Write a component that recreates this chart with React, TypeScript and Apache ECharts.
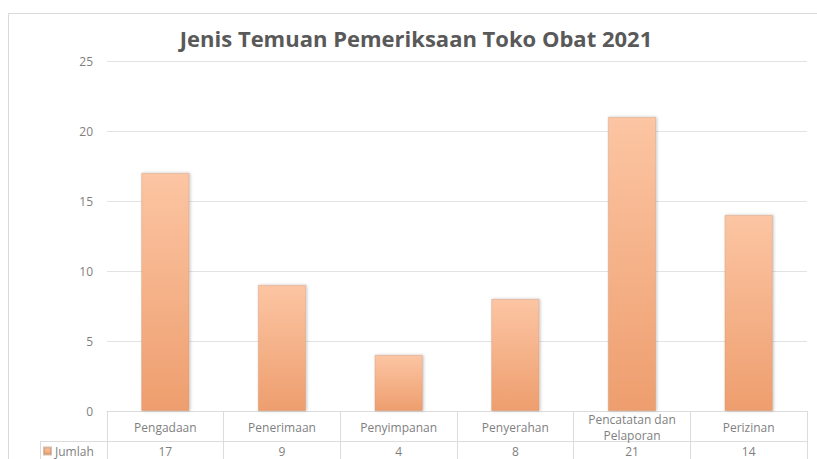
import React, { useEffect, useRef } from "react";
import * as echarts from "echarts";

const titleText = "Jenis Temuan Pemeriksaan Toko Obat 2021";
const categories = ["Pengadaan", "Penerimaan", "Penyimpanan", "Penyerahan", "Pencatatan dan\nPelaporan", "Perizinan"];
const seriesName = "Jumlah";
const jumlah = [17, 9, 4, 8, 21, 14];
const yTicks = [0, 5, 10, 15, 20, 25];

const FONT = "'Open Sans', 'Noto Sans', sans-serif";
const GRID_LINE = "#e3e3e3";
const TABLE_LINE = "#dcdcdc";
const TEXT = "#7f7f7f";

export default function App() {
  const ref = useRef<HTMLDivElement>(null);
  useEffect(() => {
    if (!ref.current) return;
    const chart = echarts.init(ref.current, null, { renderer: "svg" });
    const barColor = new echarts.graphic.LinearGradient(0, 0, 0, 1, [
      { offset: 0, color: "#fcc5a3" },
      { offset: 1, color: "#ee9e6e" },
    ]);
    chart.setOption({
      animation: false,
      backgroundColor: "#ffffff",
      textStyle: { fontFamily: FONT },
      title: {
        text: titleText,
        left: 411,
        textAlign: "center",
        top: 22,
        textStyle: { fontFamily: FONT, fontWeight: "bold", fontSize: 22, color: "#595959" },
      },
      legend: {
        left: 43,
        top: 445,
        icon: "rect",
        itemWidth: 7,
        itemHeight: 7,
        itemGap: 4,
        padding: 0,
        data: [seriesName],
        textStyle: { fontFamily: FONT, fontSize: 12, color: TEXT, padding: [0, 0, 0, -1] },
      },
      grid: { left: 107, right: 10, top: 61, bottom: 48, containLabel: false },
      xAxis: [
        {
          type: "category",
          data: categories,
          position: "bottom",
          axisLine: { show: true, lineStyle: { color: TABLE_LINE } },
          axisTick: { show: true, length: 30, inside: false, lineStyle: { color: TABLE_LINE } },
          axisLabel: {
            interval: 0,
            margin: 16,
            verticalAlign: "middle",
            fontFamily: FONT,
            fontSize: 12,
            lineHeight: 16,
            color: TEXT,
          },
          splitLine: { show: false },
        },
        {
          type: "category",
          data: categories,
          position: "bottom",
          offset: 30,
          axisLine: { show: true, lineStyle: { color: TABLE_LINE } },
          axisTick: { show: true, length: 18, lineStyle: { color: TABLE_LINE } },
          axisLabel: {
            interval: 0,
            margin: 10,
            verticalAlign: "middle",
            fontFamily: FONT,
            fontSize: 12,
            color: TEXT,
            formatter: (_v: string, i: number) => String(jumlah[i]),
          },
          splitLine: { show: false },
        },
      ],
      yAxis: {
        type: "value",
        min: yTicks[0],
        max: yTicks[yTicks.length - 1],
        interval: 5,
        axisLine: { show: false },
        axisTick: { show: false },
        axisLabel: { margin: 14, fontFamily: FONT, fontSize: 12, color: TEXT },
        splitLine: { show: true, lineStyle: { color: GRID_LINE } },
      },
      series: [
        {
          name: seriesName,
          type: "bar",
          xAxisIndex: 0,
          data: jumlah,
          barWidth: 48,
          itemStyle: {
            color: barColor,
            borderColor: "rgba(190,150,120,0.6)",
            borderWidth: 0.6,
            shadowColor: "rgba(0,0,0,0.25)",
            shadowBlur: 3,
            shadowOffsetX: 1,
          },
        },
      ],
      graphic: [
        {
          type: "rect",
          shape: { x: 8.5, y: 13.5, width: 830, height: 470 },
          style: { fill: "none", stroke: "#d9d9d9", lineWidth: 1 },
          silent: true,
        },
        {
          type: "line",
          shape: { x1: 40, y1: 441.5, x2: 107, y2: 441.5 },
          style: { stroke: TABLE_LINE, lineWidth: 1 },
          silent: true,
        },
        {
          type: "line",
          shape: { x1: 40.5, y1: 441, x2: 40.5, y2: 460 },
          style: { stroke: TABLE_LINE, lineWidth: 1 },
          silent: true,
        },
      ],
    });
    return () => chart.dispose();
  }, []);
  return <div ref={ref} style={{ position: "fixed", left: 0, top: 0, width: 817, height: 459 }} />;
}
